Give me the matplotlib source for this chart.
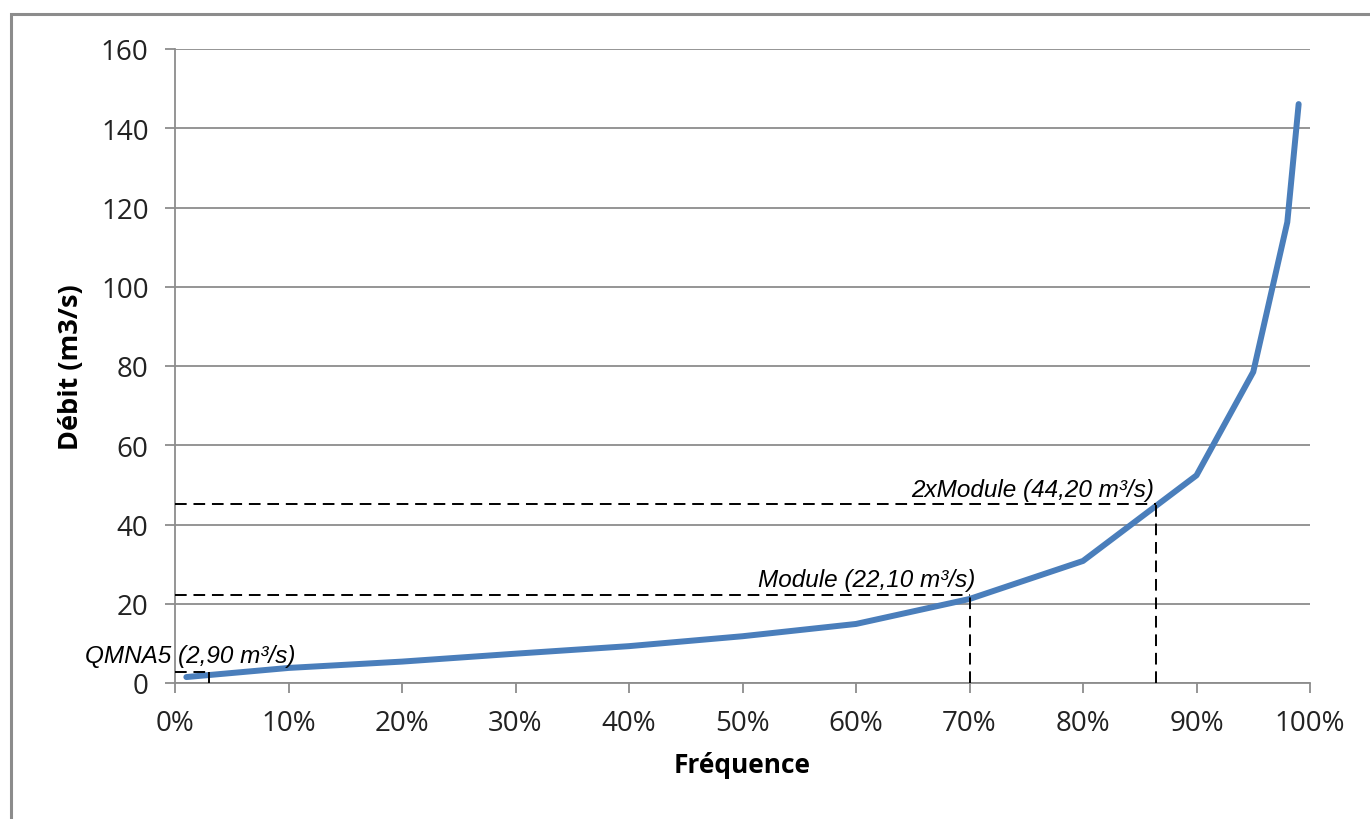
import matplotlib
matplotlib.use('Agg')
from matplotlib import pyplot as plt
from matplotlib.patches import Rectangle
from matplotlib.ticker import FuncFormatter

# courbe des débits classés
freq = [1, 10, 20, 30, 40, 50, 60, 70, 80, 90, 95, 98, 99]
debit = [1.5, 3.8, 5.4, 7.4, 9.3, 11.8, 14.9, 21.2, 30.8, 52.4, 78.5, 116.3, 146.1]

# repères (fréquence, débit, texte)
qmna5_f, qmna5_q = 3, 2.9
module_f, module_q = 70, 22.1
module2_f, module2_q = 86.4, 45.2
labels = ['QMNA5 (2,90 m³/s)', 'Module (22,10 m³/s)', '2xModule (44,20 m³/s)']

fig = plt.figure(figsize=(13.7, 8.2), dpi=100)
ax = fig.add_axes([175/1370, 1-684/820, 1135/1370, 634/820])

# cadre gris autour du graphique
fig.patches.append(Rectangle((11/1370, -0.1), 1.2, 1-15/820+0.1,
                             transform=fig.transFigure, fill=False,
                             edgecolor='#8c8c8c', linewidth=2.2))

ax.plot(freq, debit, color='#4a7ebb', linewidth=4.3, solid_capstyle='round',
        solid_joinstyle='round', zorder=3)

dash = (0, (6, 3.5))
for f, q in [(qmna5_f, qmna5_q), (module_f, module_q), (module2_f, module2_q)]:
    ax.plot([0, f], [q, q], color='black', linewidth=1.4, linestyle=dash, zorder=4)
    ax.plot([f, f], [0, q], color='black', linewidth=1.4, linestyle=dash, zorder=4)

tfont = dict(family='Liberation Sans', style='italic', fontsize=17.5)
ax.text(-7.9, 5.3, labels[0], ha='left', va='baseline', clip_on=False, **tfont)
ax.text(70.5, 24.5, labels[1], ha='right', va='baseline', **tfont)
ax.text(86.3, 47.2, labels[2], ha='right', va='baseline', **tfont)

ax.set_xlim(0, 100)
ax.set_ylim(0, 160)
ax.set_xticks(range(0, 101, 10))
ax.set_yticks(range(0, 161, 20))
ax.xaxis.set_major_formatter(FuncFormatter(lambda v, p: '%d%%' % v))
ax.yaxis.grid(True, color='#8c8c8c', linewidth=1.3)
ax.set_axisbelow(True)

for s in ['top', 'right']:
    ax.spines[s].set_visible(False)
for s in ['left', 'bottom']:
    ax.spines[s].set_color('#8c8c8c')
    ax.spines[s].set_linewidth(1.3)

ax.tick_params(axis='both', direction='out', length=7, width=1.3,
               color='#8c8c8c', labelsize=20, labelcolor='#222222')
ax.tick_params(axis='x', pad=12)
ax.tick_params(axis='y', pad=12)
for lab in ax.get_xticklabels() + ax.get_yticklabels():
    lab.set_family('Open Sans')

ax.set_xlabel('Fréquence', family='Open Sans', fontweight='bold', fontsize=19, labelpad=10)
ax.set_ylabel('Débit (m3/s)', family='Open Sans', fontweight='bold', fontsize=19.5, labelpad=12)

fig.savefig('out.png', dpi=100)
